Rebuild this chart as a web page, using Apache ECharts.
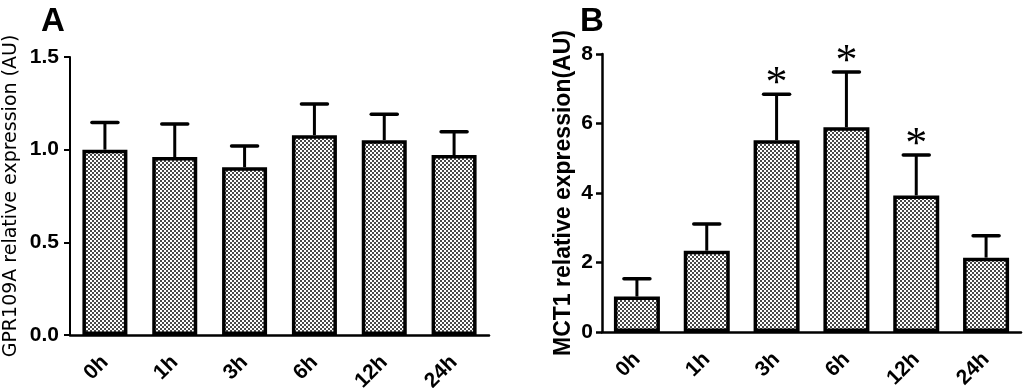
<!DOCTYPE html>
<html>
<head>
<meta charset="utf-8">
<script src="https://cdn.jsdelivr.net/npm/echarts@6/dist/echarts.min.js"></script>
<style>
html,body{margin:0;padding:0;background:#fff;}
#chart{width:1024px;height:388px;}
</style>
</head>
<body>
<div id="chart"></div>
<script>
// ---- data ----
var categories = ['0h', '1h', '3h', '6h', '12h', '24h'];
var gprMean = [1.00, 0.96, 0.905, 1.078, 1.051, 0.971];
var gprErrTop = [1.146, 1.139, 1.02, 1.247, 1.191, 1.097];
var mctMean = [1.02, 2.34, 5.52, 5.89, 3.93, 2.14];
var mctErrTop = [1.53, 3.11, 6.84, 7.48, 5.09, 2.77];
var mctSig = ['', '', '*', '*', '*', ''];
var gprTicks = [0, 0.5, 1.0, 1.5];
var mctTicks = [0, 2, 4, 6, 8];

// checker pattern
var pat = document.createElement('canvas');
pat.width = 4; pat.height = 4;
var pc = pat.getContext('2d');
pc.fillStyle = '#ffffff'; pc.fillRect(0, 0, 4, 4);
pc.fillStyle = '#4a4a4a'; pc.fillRect(0, 0, 2, 2); pc.fillRect(2, 2, 2, 2);

var FONT = '"Liberation Sans", Arial, sans-serif';

function errSeries(xi, yi, means, tops, sig) {
  return {
    type: 'custom', xAxisIndex: xi, yAxisIndex: yi, z: 1,
    data: means.map(function (m, i) { return [i, m, tops[i]]; }),
    renderItem: function (params, api) {
      var i = api.value(0);
      var p0 = api.coord([i, api.value(1)]);
      var p1 = api.coord([i, api.value(2)]);
      var hw = 13;
      var children = [
        { type: 'line', shape: { x1: p0[0], y1: p0[1], x2: p1[0], y2: p1[1] }, style: { stroke: '#000', lineWidth: 3 } },
        { type: 'line', shape: { x1: p1[0] - hw, y1: p1[1], x2: p1[0] + hw, y2: p1[1] }, style: { stroke: '#000', lineWidth: 3.5, lineCap: 'round' } }
      ];
      if (sig && sig[i]) {
        children.push({ type: 'text', x: p1[0], y: p1[1] + 12,
          style: { text: sig[i], font: '44px "Liberation Serif", serif', fill: '#000', align: 'center', verticalAlign: 'bottom' } });
      }
      return { type: 'group', children: children };
    }
  };
}

function xAxisCfg(gi) {
  return {
    type: 'category', gridIndex: gi, data: categories,
    axisLine: { lineStyle: { color: '#000', width: 2.5 } },
    axisTick: { alignWithLabel: true, length: 7, lineStyle: { color: '#000', width: 2.5 } },
    axisLabel: { rotate: 45, margin: 24, color: '#000', fontWeight: 'bold', fontSize: 21, fontFamily: FONT }
  };
}

var chart = echarts.init(document.getElementById('chart'), null, { renderer: 'canvas' });
chart.setOption({
  animation: false,
  backgroundColor: '#fff',
  grid: [
    { left: 70, right: 535, top: 57, bottom: 53, containLabel: false, outerBoundsMode: 'none' },
    { left: 602, right: 3, top: 54, bottom: 56, containLabel: false, outerBoundsMode: 'none' }
  ],
  graphic: [
    { type: 'text', left: 41, top: 5, style: { text: 'A', font: 'bold 33px ' + FONT, fill: '#000' } },
    { type: 'text', left: 580, top: 5, style: { text: 'B', font: 'bold 33px ' + FONT, fill: '#000' } }
  ],
  xAxis: [xAxisCfg(0), xAxisCfg(1)],
  yAxis: [
    {
      type: 'value', gridIndex: 0, min: gprTicks[0], max: gprTicks[gprTicks.length - 1], interval: 0.5,
      name: 'GPR109A relative expression (AU)', nameLocation: 'middle', nameGap: 49,
      nameTextStyle: { fontFamily: '"DejaVu Sans", sans-serif', fontSize: 19, color: '#000' },
      axisLine: { show: true, lineStyle: { color: '#000', width: 2 } },
      axisTick: { show: true, length: 6, lineStyle: { color: '#000', width: 2 } },
      splitLine: { show: false },
      axisLabel: { margin: 11, color: '#000', fontWeight: 'bold', fontSize: 21, fontFamily: FONT,
        formatter: function (v) { return v.toFixed(1); } }
    },
    {
      type: 'value', gridIndex: 1, min: mctTicks[0], max: mctTicks[mctTicks.length - 1], interval: 2,
      name: 'MCT1 relative expression(AU)', nameLocation: 'middle', nameGap: 27,
      nameTextStyle: { fontFamily: FONT, fontSize: 23, fontWeight: 'bold', color: '#000' },
      axisLine: { show: true, lineStyle: { color: '#000', width: 2.5 } },
      axisTick: { show: true, length: 6, lineStyle: { color: '#000', width: 2.5 } },
      splitLine: { show: false },
      axisLabel: { margin: 9, color: '#000', fontWeight: 'bold', fontSize: 21, fontFamily: FONT }
    }
  ],
  series: [
    errSeries(0, 0, gprMean, gprErrTop, null),
    { type: 'bar', xAxisIndex: 0, yAxisIndex: 0, data: gprMean, barWidth: 45, z: 2,
      itemStyle: { color: { image: pat, repeat: 'repeat' }, borderColor: '#000', borderWidth: 3.5 } },
    errSeries(1, 1, mctMean, mctErrTop, mctSig),
    { type: 'bar', xAxisIndex: 1, yAxisIndex: 1, data: mctMean, barWidth: 46, z: 2,
      itemStyle: { color: { image: pat, repeat: 'repeat' }, borderColor: '#000', borderWidth: 3.5 } }
  ]
});
</script>
</body>
</html>
